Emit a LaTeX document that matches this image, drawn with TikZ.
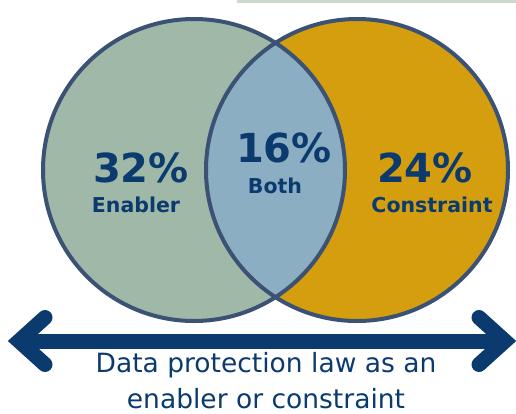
\documentclass[tikz,border=0pt]{standalone}
\usepackage{fontspec}
\setmainfont{DejaVu Sans}
\usetikzlibrary{calc}
\definecolor{sage}{HTML}{9FB8A8}
\definecolor{gold}{HTML}{D49E0F}
\definecolor{mist}{HTML}{8CAEC3}
\definecolor{rim}{HTML}{3B5275}
\definecolor{navy}{HTML}{0A3A6E}
\definecolor{strip}{HTML}{CDD9CF}

\begin{document}
\begin{tikzpicture}[x=1pt,y=-1pt,
	ring/.style={draw=rim,line width=4pt},
	big/.style={text=navy,font=\bfseries\fontsize{40}{40}\selectfont,anchor=base,inner sep=0pt},
	tag/.style={text=navy,font=\bfseries\fontsize{20.5}{20.5}\selectfont,anchor=base,inner sep=0pt},
	shaft/.style={draw=navy,line width=15pt},
	barb/.style={draw=navy,line width=15pt,line cap=round,line join=miter}]
	\useasboundingbox(0,0) rectangle (516,413);
	\fill[strip](237,0) rectangle (516,2.5);
	\coordinate (cl) at (194,170);
	\coordinate (cr) at (357,170);
	\fill[sage](cl) circle(151);
	\fill[gold](cr) circle(151);
	\begin{scope}
		\clip(cl) circle(151);
		\fill[mist](cr) circle(151);
	\end{scope}
	\draw[ring](cl) circle(151) (cr) circle(151);
	\node[big] (pl) at (141,182) {32\%};
	\node[tag] (nl) at (136,212) {Enabler};
	\node[big] (pm) at (284,162) {16\%};
	\node[tag] (nm) at (275,193) {Both};
	\node[big] (pr) at (425,182) {24\%};
	\node[tag] (nr) at (432,212) {Constraint};
	\coordinate (al) at (19,341);
	\coordinate (ar) at (505,341);
	\draw[shaft](al) -- (ar);
	\draw[barb]($(al)+(26,-23.5)$) -- (al) -- ($(al)+(26,23.5)$);
	\draw[barb]($(ar)+(-26,-23.5)$) -- (ar) -- ($(ar)+(-26,23.5)$);
	\node[text=navy,font=\fontsize{26.5}{36}\selectfont,align=center,anchor=base,inner sep=0pt] (cap) at (266,408) {Data protection law as an\\enabler or constraint};
\end{tikzpicture}
\end{document}
